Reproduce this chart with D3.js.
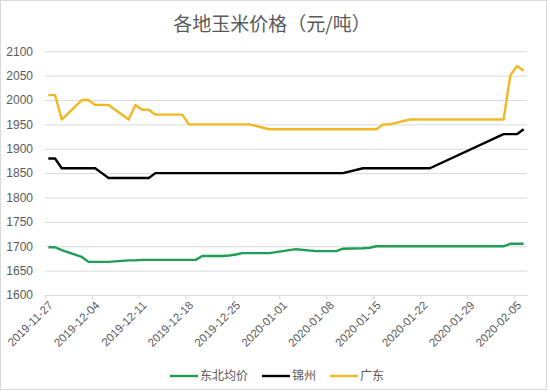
<!DOCTYPE html>
<html>
<head>
<meta charset="utf-8">
<script src="https://cdn.jsdelivr.net/npm/d3@7"></script>
<style>
  body { margin: 0; background: #fff; }
  svg { display: block; }
</style>
</head>
<body>
<div id="chart"></div>
<script>
const dates = [
  "2019-11-27","2019-11-28","2019-11-29",
  "2019-12-02","2019-12-03","2019-12-04","2019-12-05","2019-12-06",
  "2019-12-09","2019-12-10","2019-12-11","2019-12-12","2019-12-13",
  "2019-12-16","2019-12-17","2019-12-18","2019-12-19","2019-12-20",
  "2019-12-23","2019-12-24","2019-12-25","2019-12-26","2019-12-27",
  "2019-12-30","2019-12-31",
  "2020-01-02","2020-01-03",
  "2020-01-06","2020-01-07","2020-01-08","2020-01-09","2020-01-10",
  "2020-01-13","2020-01-14","2020-01-15","2020-01-16","2020-01-17",
  "2020-01-20","2020-01-21","2020-01-22","2020-01-23",
  "2020-02-03","2020-02-04","2020-02-05","2020-02-06"
];

// 东北均价
const northeast = [
  1698, 1698, 1692,
  1678, 1668, 1668, 1668, 1668,
  1671, 1671, 1672, 1672, 1672,
  1672, 1672, 1672, 1672, 1680,
  1680, 1681, 1683, 1686, 1686,
  1686, 1688,
  1692, 1694,
  1690, 1690, 1690, 1690, 1695,
  1696, 1697, 1700, 1700, 1700,
  1700, 1700, 1700, 1700,
  1700, 1705, 1705, 1705
];

// 锦州
const jinzhou = [
  1880, 1880, 1860,
  1860, 1860, 1860, 1850, 1840,
  1840, 1840, 1840, 1840, 1850,
  1850, 1850, 1850, 1850, 1850,
  1850, 1850, 1850, 1850, 1850,
  1850, 1850,
  1850, 1850,
  1850, 1850, 1850, 1850, 1850,
  1860, 1860, 1860, 1860, 1860,
  1860, 1860, 1860, 1860,
  1930, 1930, 1930, 1940
];

// 广东
const guangdong = [
  2010, 2010, 1960,
  2000, 2000, 1990, 1990, 1990,
  1960, 1990, 1980, 1980, 1970,
  1970, 1970, 1950, 1950, 1950,
  1950, 1950, 1950, 1950, 1950,
  1940, 1940,
  1940, 1940,
  1940, 1940, 1940, 1940, 1940,
  1940, 1940, 1940, 1950, 1950,
  1960, 1960, 1960, 1960,
  1960, 2050, 2070, 2060
];

const seriesNames = ["东北均价", "锦州", "广东"];
const seriesColors = ["#1f9e58", "#000000", "#f2b824"];
const yTicks = [1600, 1650, 1700, 1750, 1800, 1850, 1900, 1950, 2000, 2050, 2100];
const titleText = "各地玉米价格（元/吨）";

const width = 550, height = 392;
const plot = {left: 45, right: 527, top: 51.3, bottom: 295};

const parse = d3.timeParse("%Y-%m-%d");
const fmt = d3.timeFormat("%Y-%m-%d");
const startDay = parse("2019-11-27");
const endDay = parse("2020-02-07");

const svg = d3.select("#chart").append("svg")
  .attr("width", width)
  .attr("height", height);

svg.append("rect")
  .attr("x", 0.5).attr("y", 0.5)
  .attr("width", 546).attr("height", 389)
  .attr("fill", "#fff")
  .attr("stroke", "#d9d9d9");

const x = d3.scaleTime()
  .domain([startDay, endDay])
  .range([plot.left, plot.right]);

const y = d3.scaleLinear()
  .domain([1600, 2100])
  .range([plot.bottom, plot.top]);

// gridlines + y labels
const yAxis = svg.append("g")
  .attr("transform", `translate(${plot.left},0)`)
  .call(d3.axisLeft(y)
    .tickValues(yTicks)
    .tickFormat(d3.format("d"))
    .tickSize(-(plot.right - plot.left))
    .tickPadding(12));
yAxis.select(".domain").remove();
yAxis.selectAll("line").attr("stroke", "#d9d9d9");
yAxis.selectAll("text")
  .attr("fill", "#595959")
  .attr("font-family", "'Liberation Sans', Arial, sans-serif")
  .attr("font-size", "12px");

// x axis with weekly ticks
const xAxis = svg.append("g")
  .attr("transform", `translate(0,${plot.bottom})`)
  .call(d3.axisBottom(x)
    .tickValues(d3.timeDay.range(startDay, endDay, 7))
    .tickSize(4)
    .tickSizeOuter(0)
    .tickFormat(fmt));
xAxis.select(".domain").attr("stroke", "#d9d9d9");
xAxis.selectAll("line").attr("stroke", "#d9d9d9");
xAxis.selectAll("text")
  .attr("fill", "#595959")
  .attr("font-family", "'Liberation Sans', Arial, sans-serif")
  .attr("font-size", "11.5px")
  .attr("text-anchor", "end")
  .attr("x", 0).attr("y", 0).attr("dy", 0)
  .attr("transform", "translate(8,11) rotate(-45)");

// lines
const rows = dates.map((d, i) => ({
  date: d3.timeHour.offset(parse(d), 12),
  values: [northeast[i], jinzhou[i], guangdong[i]]
}));

const line = k => d3.line()
  .x(d => x(d.date))
  .y(d => y(d.values[k]));

seriesNames.forEach((name, k) => {
  svg.append("path")
    .datum(rows)
    .attr("fill", "none")
    .attr("stroke", seriesColors[k])
    .attr("stroke-width", 2.4)
    .attr("stroke-linejoin", "round")
    .attr("d", line(k));
});

// title
svg.append("text")
  .attr("x", 272)
  .attr("y", 31)
  .attr("text-anchor", "middle")
  .attr("font-family", "'Noto Sans CJK SC', sans-serif")
  .attr("font-size", "19px")
  .attr("fill", "#595959")
  .text(titleText);

// legend
const legend = svg.append("g").attr("transform", "translate(0,376)");
const legendX = [170, 262, 330];
seriesNames.forEach((name, k) => {
  const item = legend.append("g").attr("transform", `translate(${legendX[k]},0)`);
  item.append("line")
    .attr("x1", 0).attr("x2", 28)
    .attr("stroke", seriesColors[k])
    .attr("stroke-width", 2.4);
  item.append("text")
    .attr("x", 30)
    .attr("dy", "0.35em")
    .attr("font-family", "'Noto Sans CJK SC', sans-serif")
    .attr("font-size", "12px")
    .attr("fill", "#595959")
    .text(name);
});
</script>
</body>
</html>
